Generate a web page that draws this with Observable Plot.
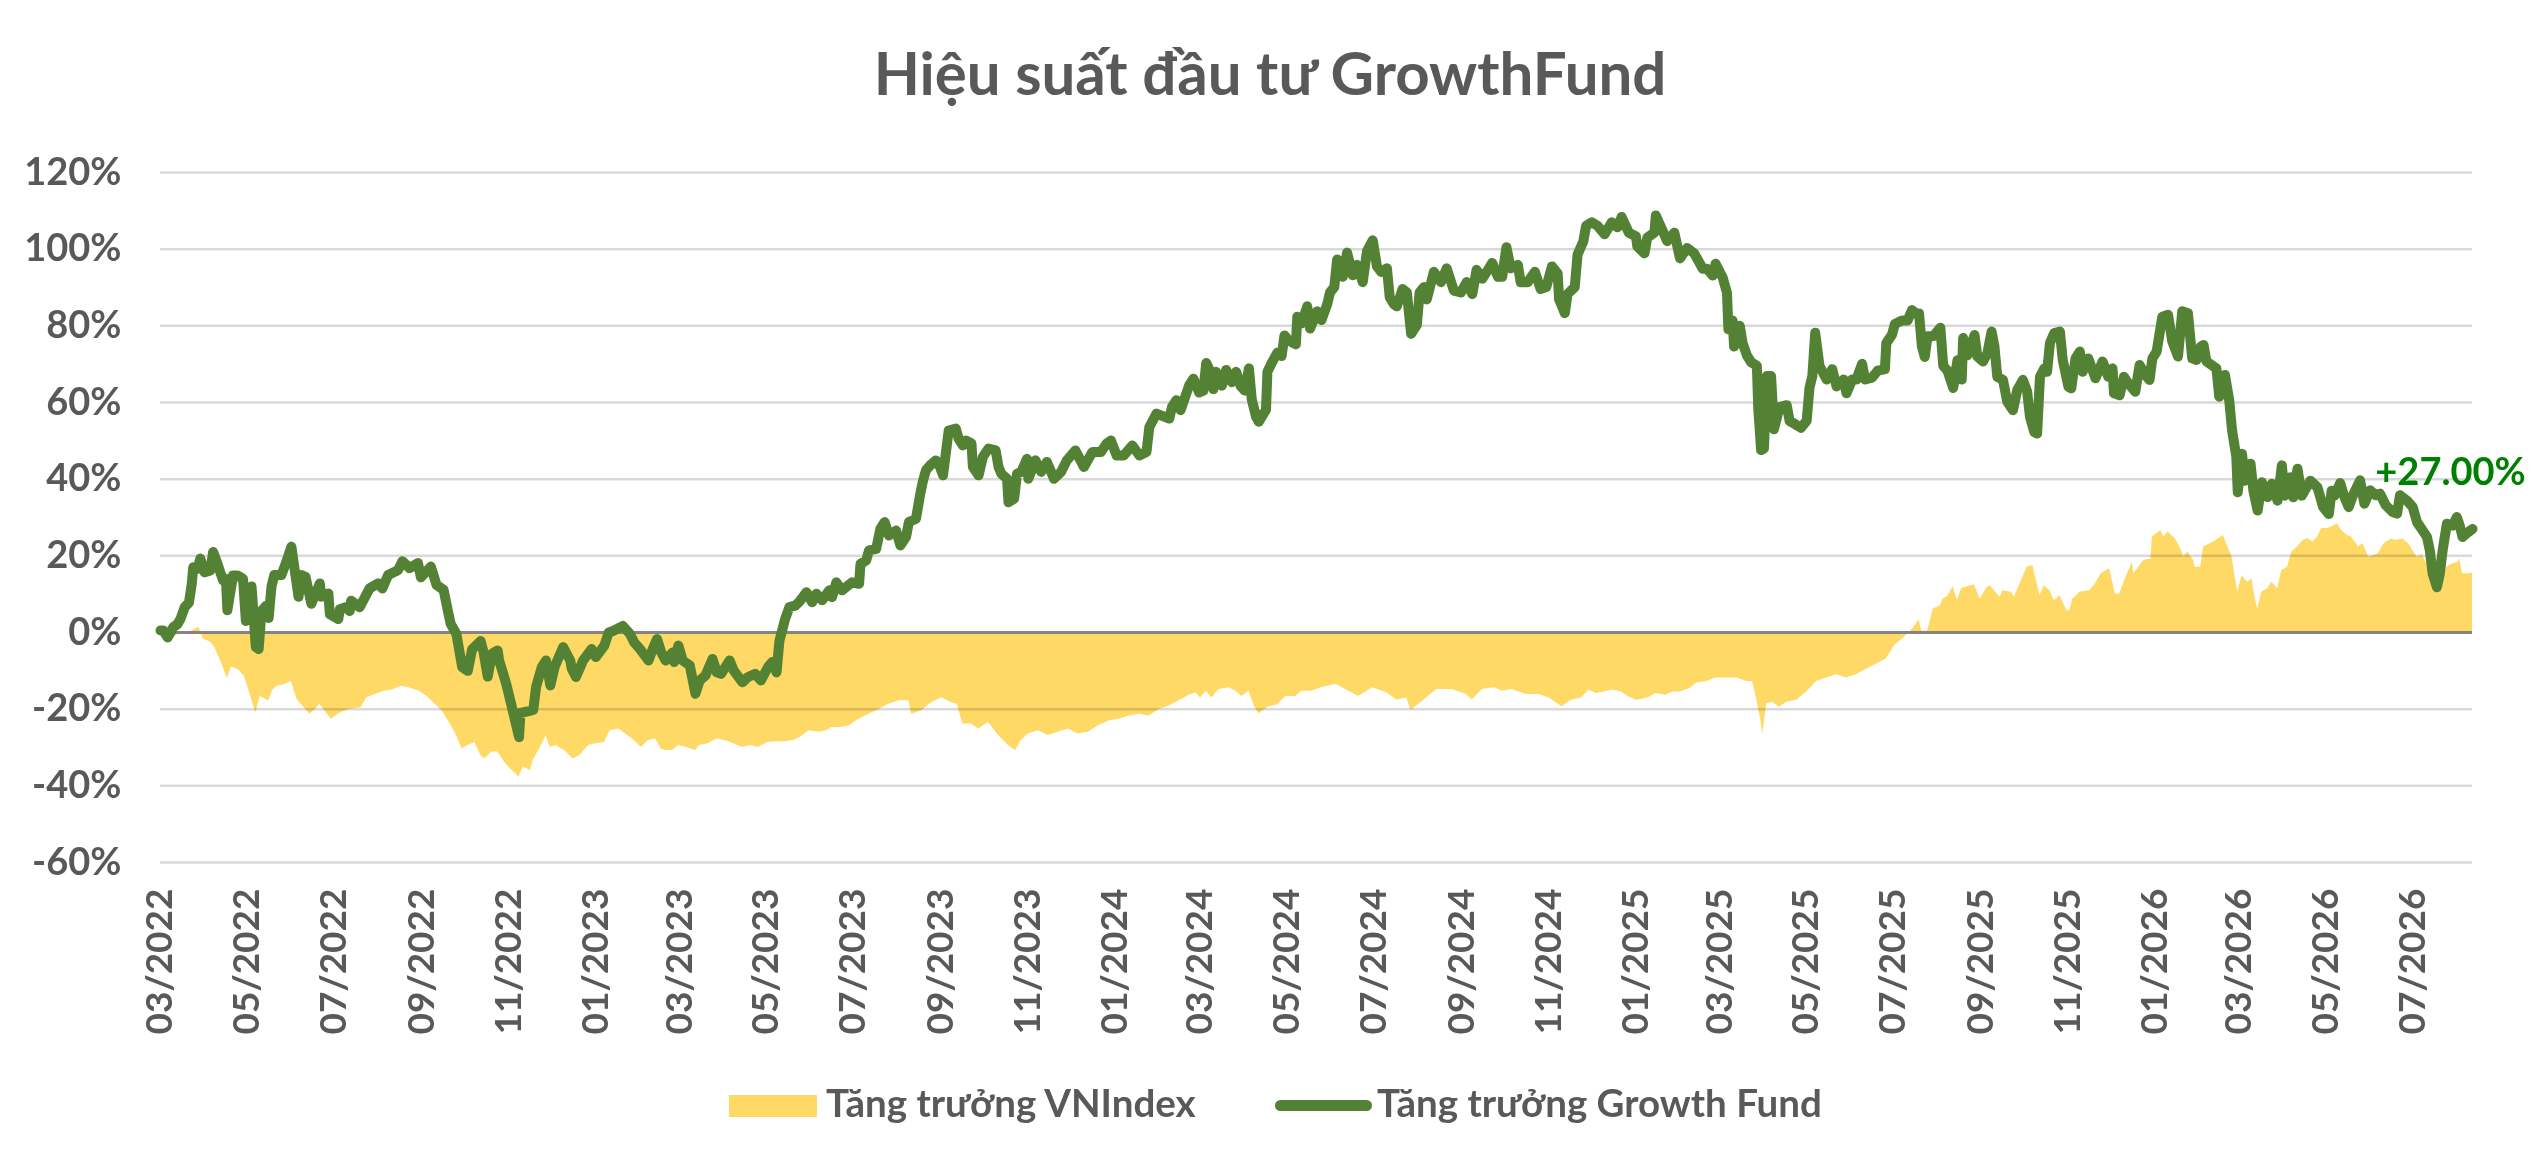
<!DOCTYPE html>
<html>
<head>
<meta charset="utf-8">
<script src="https://cdn.jsdelivr.net/npm/d3@7"></script>
<script src="https://cdn.jsdelivr.net/npm/@observablehq/plot@0.6"></script>
<style>
  html, body { margin: 0; padding: 0; background: #fff; }
  #page { position: relative; width: 2540px; height: 1172px; overflow: hidden; font-family: Lato, "Open Sans", sans-serif; color: #595959; }
  #title { position: absolute; left: 0; top: 42px; width: 2540px; text-align: center; font-weight: 700; font-size: 60px; line-height: 1; }
  #chart { position: absolute; left: 0; top: 130px; }
  .leg-text { position: absolute; top: 1083px; font-weight: 700; font-size: 38.5px; line-height: 1; white-space: nowrap; }
</style>
</head>
<body>
<div id="page">
  <div id="title">Hiệu suất đầu tư GrowthFund</div>
  <div id="chart"></div>
  <div style="position:absolute;left:729px;top:1095px;width:88px;height:22px;background:#FFD966"></div>
  <div class="leg-text" style="left:826px">Tăng trưởng VNIndex</div>
  <div style="position:absolute;left:1275px;top:1100px;width:97px;height:11px;border-radius:5.5px;background:#548235"></div>
  <div class="leg-text" style="left:1377px">Tăng trưởng Growth Fund</div>
</div>
<script>
const yTicks = [-60, -40, -20, 0, 20, 40, 60, 80, 100, 120];
const xTickDates = ["2022-03-01","2022-05-01","2022-07-01","2022-09-01","2022-11-01","2023-01-01","2023-03-01","2023-05-01","2023-07-01","2023-09-01","2023-11-01","2024-01-01","2024-03-01","2024-05-01","2024-07-01","2024-09-01","2024-11-01","2025-01-01","2025-03-01","2025-05-01","2025-07-01","2025-09-01","2025-11-01","2026-01-01","2026-03-01","2026-05-01","2026-07-01"];

const fundDates = ["2022-03-01","2022-03-03","2022-03-06","2022-03-10","2022-03-13","2022-03-15","2022-03-18","2022-03-21","2022-03-23","2022-03-24","2022-03-27","2022-03-29","2022-04-01","2022-04-05","2022-04-07","2022-04-10","2022-04-12","2022-04-14","2022-04-16","2022-04-17","2022-04-21","2022-04-24","2022-04-28","2022-04-30","2022-05-04","2022-05-07","2022-05-09","2022-05-11","2022-05-14","2022-05-16","2022-05-18","2022-05-20","2022-05-25","2022-05-28","2022-06-01","2022-06-06","2022-06-08","2022-06-11","2022-06-15","2022-06-21","2022-06-22","2022-06-27","2022-06-28","2022-07-04","2022-07-05","2022-07-09","2022-07-12","2022-07-13","2022-07-19","2022-07-26","2022-08-01","2022-08-04","2022-08-08","2022-08-13","2022-08-15","2022-08-18","2022-08-23","2022-08-29","2022-08-31","2022-09-07","2022-09-11","2022-09-16","2022-09-19","2022-09-21","2022-09-25","2022-09-27","2022-09-29","2022-10-03","2022-10-06","2022-10-12","2022-10-14","2022-10-17","2022-10-20","2022-10-24","2022-10-25","2022-10-30","2022-11-03","2022-11-08","2022-11-09","2022-11-14","2022-11-18","2022-11-20","2022-11-24","2022-11-27","2022-11-30","2022-12-03","2022-12-09","2022-12-14","2022-12-15","2022-12-18","2022-12-23","2022-12-29","2023-01-01","2023-01-07","2023-01-10","2023-01-13","2023-01-20","2023-01-25","2023-01-28","2023-02-01","2023-02-07","2023-02-10","2023-02-13","2023-02-16","2023-02-19","2023-02-24","2023-02-25","2023-02-28","2023-03-03","2023-03-08","2023-03-12","2023-03-15","2023-03-19","2023-03-24","2023-03-27","2023-03-30","2023-04-05","2023-04-08","2023-04-14","2023-04-18","2023-04-23","2023-04-27","2023-05-02","2023-05-05","2023-05-08","2023-05-10","2023-05-14","2023-05-17","2023-05-21","2023-05-24","2023-05-29","2023-06-02","2023-06-05","2023-06-09","2023-06-14","2023-06-16","2023-06-19","2023-06-23","2023-06-30","2023-07-05","2023-07-06","2023-07-10","2023-07-12","2023-07-17","2023-07-20","2023-07-23","2023-07-26","2023-07-31","2023-08-03","2023-08-07","2023-08-09","2023-08-14","2023-08-17","2023-08-19","2023-08-21","2023-08-24","2023-08-28","2023-08-30","2023-09-02","2023-09-06","2023-09-11","2023-09-13","2023-09-16","2023-09-18","2023-09-22","2023-09-23","2023-09-27","2023-09-30","2023-10-04","2023-10-09","2023-10-11","2023-10-13","2023-10-17","2023-10-18","2023-10-22","2023-10-24","2023-10-27","2023-10-31","2023-11-01","2023-11-06","2023-11-10","2023-11-14","2023-11-19","2023-11-24","2023-11-28","2023-12-04","2023-12-10","2023-12-16","2023-12-22","2023-12-26","2023-12-29","2024-01-02","2024-01-07","2024-01-13","2024-01-18","2024-01-23","2024-01-25","2024-01-30","2024-02-08","2024-02-10","2024-02-13","2024-02-16","2024-02-22","2024-02-25","2024-02-29","2024-03-03","2024-03-05","2024-03-08","2024-03-10","2024-03-12","2024-03-16","2024-03-19","2024-03-23","2024-03-26","2024-03-29","2024-04-01","2024-04-04","2024-04-06","2024-04-09","2024-04-11","2024-04-16","2024-04-17","2024-04-20","2024-04-24","2024-04-27","2024-04-29","2024-05-02","2024-05-07","2024-05-08","2024-05-11","2024-05-15","2024-05-17","2024-05-22","2024-05-25","2024-05-29","2024-05-31","2024-06-03","2024-06-05","2024-06-09","2024-06-12","2024-06-16","2024-06-19","2024-06-23","2024-06-26","2024-06-30","2024-07-03","2024-07-06","2024-07-10","2024-07-12","2024-07-15","2024-07-17","2024-07-21","2024-07-24","2024-07-27","2024-07-31","2024-08-02","2024-08-05","2024-08-07","2024-08-12","2024-08-17","2024-08-21","2024-08-26","2024-08-31","2024-09-04","2024-09-08","2024-09-11","2024-09-15","2024-09-19","2024-09-22","2024-09-26","2024-09-29","2024-10-02","2024-10-05","2024-10-10","2024-10-12","2024-10-17","2024-10-22","2024-10-26","2024-10-30","2024-11-03","2024-11-07","2024-11-08","2024-11-12","2024-11-14","2024-11-19","2024-11-21","2024-11-25","2024-11-27","2024-12-01","2024-12-05","2024-12-10","2024-12-15","2024-12-19","2024-12-22","2024-12-27","2025-01-01","2025-01-02","2025-01-07","2025-01-09","2025-01-14","2025-01-15","2025-01-23","2025-01-28","2025-02-01","2025-02-06","2025-02-11","2025-02-17","2025-02-20","2025-02-24","2025-02-26","2025-03-03","2025-03-06","2025-03-07","2025-03-10","2025-03-11","2025-03-15","2025-03-17","2025-03-20","2025-03-23","2025-03-27","2025-03-28","2025-03-30","2025-04-01","2025-04-03","2025-04-06","2025-04-08","2025-04-12","2025-04-17","2025-04-19","2025-04-27","2025-05-01","2025-05-03","2025-05-05","2025-05-07","2025-05-10","2025-05-15","2025-05-19","2025-05-22","2025-05-27","2025-05-29","2025-06-02","2025-06-05","2025-06-09","2025-06-11","2025-06-16","2025-06-20","2025-06-25","2025-06-26","2025-06-30","2025-07-02","2025-07-07","2025-07-11","2025-07-14","2025-07-17","2025-07-19","2025-07-21","2025-07-23","2025-07-25","2025-07-29","2025-08-03","2025-08-05","2025-08-08","2025-08-12","2025-08-15","2025-08-18","2025-08-19","2025-08-22","2025-08-27","2025-08-29","2025-09-02","2025-09-05","2025-09-08","2025-09-10","2025-09-12","2025-09-16","2025-09-19","2025-09-23","2025-09-26","2025-09-30","2025-10-03","2025-10-05","2025-10-08","2025-10-10","2025-10-12","2025-10-15","2025-10-17","2025-10-19","2025-10-22","2025-10-26","2025-10-28","2025-11-01","2025-11-03","2025-11-06","2025-11-09","2025-11-11","2025-11-15","2025-11-20","2025-11-25","2025-11-29","2025-12-02","2025-12-03","2025-12-07","2025-12-10","2025-12-13","2025-12-18","2025-12-21","2025-12-25","2025-12-28","2025-12-30","2026-01-02","2026-01-06","2026-01-10","2026-01-13","2026-01-17","2026-01-20","2026-01-24","2026-01-27","2026-01-30","2026-02-02","2026-02-04","2026-02-06","2026-02-13","2026-02-15","2026-02-19","2026-02-22","2026-02-24","2026-02-27","2026-02-28","2026-03-03","2026-03-05","2026-03-09","2026-03-11","2026-03-14","2026-03-17","2026-03-21","2026-03-24","2026-03-28","2026-03-31","2026-04-02","2026-04-06","2026-04-08","2026-04-11","2026-04-14","2026-04-20","2026-04-25","2026-04-29","2026-05-03","2026-05-05","2026-05-07","2026-05-11","2026-05-14","2026-05-17","2026-05-20","2026-05-25","2026-05-28","2026-06-01","2026-06-05","2026-06-08","2026-06-12","2026-06-17","2026-06-20","2026-06-22","2026-06-27","2026-07-01","2026-07-04","2026-07-08","2026-07-11","2026-07-13","2026-07-15","2026-07-18","2026-07-20","2026-07-22","2026-07-25","2026-07-29","2026-08-01","2026-08-03","2026-08-05","2026-08-09","2026-08-12"];
const fundValues = [0.5,0.5,-1.3,1.4,2.2,3.5,6.6,7.8,12.8,17,16.6,19.3,15.7,16.2,21,18,15.7,13.6,14,5.8,14.9,14.9,14,3,12,-3.8,-4.3,5.6,6.9,3.8,12,15,15,18,22.4,9.3,15,14.5,7.5,12.8,9.3,10.2,4.8,3.5,6.1,6.6,5.6,8.3,6.6,11.5,12.8,11.5,15,15.9,16.3,18.6,16.8,18.1,14.4,17.2,12.4,11.1,5.6,2.2,-0.4,-4.7,-9,-10,-4.4,-2.2,-5,-11.5,-5.5,-4.7,-7.3,-13.4,-19.5,-27.3,-21,-20.6,-20.2,-14.2,-9,-7.3,-13.8,-9,-3.8,-7.3,-9.4,-11.6,-7.3,-4.3,-6.4,-3.4,0,0.4,1.7,-0.4,-2.6,-4.3,-7.3,-4.3,-1.7,-5.2,-7.3,-5.2,-7.7,-3.4,-7.3,-8.6,-16,-12.5,-11.2,-6.9,-10.4,-10.8,-7.3,-10,-13,-11.6,-10.8,-12.5,-9,-7.7,-10.4,-2.2,3.5,6.6,7,8,10.5,7.9,10.1,8.4,11,9.2,13.1,11,13.1,12.7,17.9,18.8,21.4,21.8,27.1,28.8,25.3,26.6,22.7,24.9,28.8,29.7,36.2,39.7,42.3,43.6,44.9,44,41,52.7,53.2,50.5,48.8,50.1,49.3,43.2,41,45.8,48,47.5,43.2,41.4,40.1,34,34.9,41.4,41.9,45.3,40.1,44.9,41.9,44.5,40.1,41.9,44.9,47.5,43.2,47.1,47.1,49.3,50.1,46.2,46.2,48.8,46.2,47.1,53.6,57.1,55.8,58.9,60.6,58,64.5,66.2,62.6,63.1,70.3,68,63.5,68,64.4,68.5,65.3,68,64.4,63.1,68.9,60.8,56.3,55,58.1,68,70.3,73,72.1,77.5,76.1,75.2,82.4,80.6,85.1,79.3,83.8,81.5,85.6,88.7,90.1,97.3,92.8,99.1,93.2,95.9,91.4,99.5,102.3,95.5,94.1,95,87.4,85.6,85.1,89.6,88.7,77.9,80.2,88.7,90.1,86.9,94.1,91.4,95,89.2,88.7,91.4,88.3,94.6,92.3,94.6,96.4,92.8,92.8,100.5,95,95.9,91.4,91.4,94.1,89.6,90.1,95.5,93.7,86.9,83.3,88.3,90.1,98.6,102,106.1,107,106.1,103.9,107,105.7,108.4,104.3,103.4,100.7,98.9,103,104.3,108.8,102.1,104.3,97.6,100.3,98.9,94.9,94.9,93.1,96.2,92.6,88.6,79.1,81.4,74.6,80,75.5,72.3,70.5,69.6,58.4,47.6,48,66.9,66.9,53,58.8,59.3,55.2,53.4,55.2,63.8,66.9,78.2,69.6,66,68.7,64.2,66,62.4,66,66,70.1,66,66.5,68.3,68.7,75.5,77.7,80.5,81.4,81.4,84.1,83.2,83.2,74.6,71.9,77.3,77.3,79.5,69.6,68.3,63.8,71,66,76.8,72.3,77.6,72,70.7,72.8,78.5,74.6,66.7,65.9,60.2,58,63.2,65.9,62.8,56.2,52.3,51.9,66.7,68.9,68,75.5,78.1,78.5,71.1,64.1,63.7,71.5,73.3,68,71.5,66.3,70.7,66.7,68.9,62.4,61.9,66.7,65,62.8,69.8,67.2,65.9,71.5,73.3,82.4,82.9,75.9,72,83.8,83.3,71.5,71.1,74.6,75,70.7,68.9,61.5,67.2,60.6,52.8,45.8,36.6,46.6,39.6,44,37,31.8,39.2,35.3,38.8,34.4,43.6,35.7,40.5,35.3,42.7,35.7,39.6,37.9,32.7,30.9,37,35.7,39,35.3,32.7,35.8,39.7,33.6,37.1,35.8,36.2,33.2,31.4,31,35.8,34.4,32.7,28.8,26.6,24.9,21.4,15.3,11.8,15.3,21.4,28.4,27.9,30.1,27.9,24.9,26.2,27];

const vniDates = ["2022-03-01","2022-03-07","2022-03-13","2022-03-21","2022-03-28","2022-03-31","2022-04-05","2022-04-08","2022-04-13","2022-04-17","2022-04-20","2022-04-25","2022-04-29","2022-05-02","2022-05-07","2022-05-10","2022-05-16","2022-05-19","2022-05-22","2022-05-27","2022-06-01","2022-06-05","2022-06-14","2022-06-18","2022-06-21","2022-06-29","2022-07-06","2022-07-12","2022-07-20","2022-07-24","2022-07-30","2022-08-05","2022-08-11","2022-08-17","2022-08-23","2022-08-30","2022-09-04","2022-09-09","2022-09-15","2022-09-20","2022-09-24","2022-09-29","2022-10-03","2022-10-08","2022-10-12","2022-10-15","2022-10-20","2022-10-24","2022-10-29","2022-11-02","2022-11-08","2022-11-11","2022-11-16","2022-11-18","2022-11-23","2022-11-27","2022-11-30","2022-12-04","2022-12-10","2022-12-16","2022-12-21","2022-12-27","2023-01-01","2023-01-07","2023-01-11","2023-01-17","2023-01-22","2023-01-28","2023-02-02","2023-02-07","2023-02-12","2023-02-16","2023-02-19","2023-02-24","2023-02-28","2023-03-06","2023-03-12","2023-03-15","2023-03-21","2023-03-27","2023-04-02","2023-04-08","2023-04-14","2023-04-20","2023-04-25","2023-05-02","2023-05-08","2023-05-14","2023-05-20","2023-05-24","2023-05-31","2023-06-07","2023-06-12","2023-06-16","2023-06-21","2023-06-28","2023-07-05","2023-07-12","2023-07-19","2023-07-26","2023-08-02","2023-08-09","2023-08-11","2023-08-18","2023-08-25","2023-09-01","2023-09-08","2023-09-12","2023-09-16","2023-09-22","2023-09-27","2023-10-04","2023-10-11","2023-10-18","2023-10-23","2023-10-27","2023-11-01","2023-11-08","2023-11-15","2023-11-22","2023-11-29","2023-12-06","2023-12-13","2023-12-20","2023-12-28","2024-01-04","2024-01-11","2024-01-18","2024-01-25","2024-02-01","2024-02-08","2024-02-15","2024-02-22","2024-02-27","2024-03-01","2024-03-05","2024-03-09","2024-03-14","2024-03-21","2024-03-26","2024-03-30","2024-04-04","2024-04-08","2024-04-11","2024-04-18","2024-04-24","2024-04-30","2024-05-07","2024-05-11","2024-05-18","2024-05-25","2024-06-04","2024-06-11","2024-06-20","2024-06-30","2024-07-10","2024-07-17","2024-07-24","2024-07-27","2024-08-04","2024-08-14","2024-08-25","2024-09-04","2024-09-08","2024-09-15","2024-09-24","2024-09-29","2024-10-06","2024-10-16","2024-10-25","2024-11-01","2024-11-10","2024-11-17","2024-11-24","2024-11-29","2024-12-04","2024-12-10","2024-12-15","2024-12-22","2024-12-27","2025-01-02","2025-01-07","2025-01-11","2025-01-15","2025-01-22","2025-01-27","2025-02-01","2025-02-08","2025-02-13","2025-02-20","2025-02-26","2025-03-06","2025-03-13","2025-03-20","2025-03-24","2025-03-27","2025-03-30","2025-03-31","2025-04-03","2025-04-07","2025-04-12","2025-04-17","2025-04-24","2025-05-01","2025-05-08","2025-05-15","2025-05-22","2025-05-29","2025-06-05","2025-06-12","2025-06-19","2025-06-26","2025-07-02","2025-07-08","2025-07-13","2025-07-16","2025-07-19","2025-07-21","2025-07-25","2025-07-29","2025-08-03","2025-08-05","2025-08-08","2025-08-12","2025-08-15","2025-08-18","2025-08-24","2025-08-27","2025-08-31","2025-09-05","2025-09-07","2025-09-14","2025-09-16","2025-09-22","2025-09-24","2025-09-28","2025-10-01","2025-10-03","2025-10-07","2025-10-12","2025-10-15","2025-10-19","2025-10-22","2025-10-26","2025-10-31","2025-11-02","2025-11-04","2025-11-09","2025-11-16","2025-11-20","2025-11-24","2025-11-30","2025-12-04","2025-12-07","2025-12-11","2025-12-16","2025-12-17","2025-12-24","2025-12-29","2025-12-30","2026-01-05","2026-01-07","2026-01-10","2026-01-15","2026-01-19","2026-01-21","2026-01-24","2026-01-28","2026-01-29","2026-02-02","2026-02-04","2026-02-11","2026-02-18","2026-02-21","2026-02-24","2026-02-26","2026-02-28","2026-03-03","2026-03-07","2026-03-10","2026-03-12","2026-03-14","2026-03-17","2026-03-21","2026-03-24","2026-03-28","2026-03-31","2026-04-04","2026-04-07","2026-04-11","2026-04-15","2026-04-18","2026-04-22","2026-04-25","2026-04-28","2026-05-02","2026-05-05","2026-05-09","2026-05-12","2026-05-16","2026-05-19","2026-05-24","2026-05-27","2026-05-31","2026-06-04","2026-06-07","2026-06-11","2026-06-16","2026-06-19","2026-06-24","2026-06-28","2026-07-01","2026-07-04","2026-07-08","2026-07-11","2026-07-15","2026-07-18","2026-07-22","2026-07-25","2026-07-29","2026-08-02","2026-08-03","2026-08-05","2026-08-09","2026-08-12"];
const vniValues = [-0.5,-2.5,-0.6,0,1.4,-1.7,-2.5,-3.8,-8.1,-12,-9,-9.8,-11.5,-15,-21,-16.6,-17.9,-15,-14,-13.6,-12.8,-17.5,-21.3,-20,-18.7,-22.6,-20.9,-20,-19.6,-17,-16.2,-15.3,-15,-14,-14.5,-15.3,-16.6,-18.3,-20.5,-23.5,-26,-30.4,-29.5,-28.7,-32,-33,-31.2,-31.2,-33.9,-35.6,-37.7,-35.1,-36,-33.4,-30,-27,-30,-29.5,-30.8,-33,-32,-29.5,-29,-28.7,-25.6,-25.2,-26.5,-28.2,-30,-28.2,-27.8,-30.4,-30.8,-30.8,-29.5,-30,-30.8,-29.5,-29,-27.8,-28.2,-29,-30,-29.5,-30,-28.7,-28.5,-28.5,-28.2,-27.5,-25.6,-26,-25.6,-24.8,-24.8,-24.4,-22.6,-21.3,-20.1,-18.7,-17.8,-17.8,-21.3,-20.4,-18.3,-17,-18.3,-18.7,-23.9,-23.9,-25.2,-23.5,-26.9,-29.5,-30.8,-28.2,-26.5,-25.6,-26.9,-26,-25.2,-26.5,-26,-24.4,-23,-22.6,-21.8,-21.3,-21.8,-20.1,-19.2,-17.8,-16.4,-15.8,-17.1,-15.3,-17.1,-14.9,-14.4,-15.3,-16.7,-15.3,-19.4,-21.2,-19.4,-18.9,-16.7,-16.7,-15.3,-15.3,-14.4,-13.5,-14.9,-16.7,-14.4,-15.8,-17.6,-17.1,-20.3,-18,-14.9,-14.9,-16.2,-17.6,-14.9,-14.4,-15.3,-14.9,-16.2,-16.2,-17.1,-19.4,-17.6,-17.1,-15,-15.9,-15.5,-15,-15.5,-16.8,-17.7,-17.3,-16.8,-15.9,-16.4,-15.5,-15.5,-14.6,-13.2,-12.8,-11.9,-11.9,-11.9,-12.8,-12.8,-17.7,-23.2,-26.8,-18.6,-18.2,-19.5,-18.2,-17.7,-15.5,-12.8,-11.9,-11,-11.9,-11,-9.6,-8.3,-6.9,-3.3,-1.5,0.3,1.6,3.4,0.3,0.3,6.1,7,8.8,9.3,12,8.4,11.5,12.2,12.4,8.7,11.8,12.2,9.2,10.9,10.5,9.2,12.7,15.3,17,17.5,9.6,12.2,10.9,8.3,9.6,5.7,5.7,8.7,10.5,10.9,12.7,15.3,16.6,10,10,14,18.3,15.3,18.8,19.2,24.9,26.6,24.9,26.2,24.5,21.8,19.7,21,18.8,17,17,22.3,23.6,25.3,22.3,19.7,14.8,10.5,14.8,13.1,14,9.6,6.1,10.5,11.4,13.1,11.4,16.2,17,21,22.3,24,24.5,23.6,24.9,27.1,27.1,27.5,28.4,26.6,25.3,24.9,22.3,23.2,19.7,20.1,20.6,23.2,24.4,24,24.4,23.2,21.4,19.7,20.1,17.9,13.6,11.8,13.6,17.1,17.9,18.4,19.3,15.3,15.3,15.5];

const parse = d3.utcParse("%Y-%m-%d");
const fund = fundDates.map((d, i) => ({date: parse(d), value: fundValues[i]}));
const vni = vniDates.map((d, i) => ({date: parse(d), value: vniValues[i]}));
const lastFund = [fund[fund.length - 1]];

const chart = Plot.plot({
  width: 2540,
  height: 912,
  marginTop: 42,
  marginBottom: 180,
  marginLeft: 160,
  marginRight: 68,
  style: {fontFamily: "Lato, 'Open Sans', sans-serif", fontWeight: "bold", color: "#595959", background: "transparent", overflow: "visible"},
  x: {type: "utc", domain: [parse("2022-03-01"), parse("2026-08-12")], label: null},
  y: {domain: [-60, 120], label: null},
  marks: [
    Plot.areaY(vni, {x: "date", y: "value", fill: "#FFD966"}),
    Plot.gridY(yTicks, {stroke: "#D9D9D9", strokeOpacity: 1, strokeWidth: 2.5}),
    Plot.ruleY([0], {stroke: "#848484", strokeWidth: 3}),
    Plot.line(fund, {x: "date", y: "value", stroke: "#548235", strokeWidth: 10, strokeLinejoin: "round", strokeLinecap: "round"}),
    Plot.axisY(yTicks, {tickFormat: d => d + "%", tickSize: 0, tickPadding: 39, fontSize: 38, fill: "#595959"}),
    Plot.axisX(xTickDates.map(parse), {tickFormat: d3.utcFormat("%m/%Y"), tickRotate: -90, tickSize: 0, tickPadding: 26, fontSize: 37, fill: "#595959"}),
    Plot.text(lastFund, {x: "date", y: "value", text: d => "+" + d.value.toFixed(2) + "%", fill: "#008000", fontSize: 38, fontWeight: "bold", dx: -22, dy: -56})
  ]
});
document.getElementById("chart").appendChild(chart);
// gridlines tint the area like a translucent overlay
chart.querySelectorAll('g[aria-label="y-grid"]').forEach(g => g.style.mixBlendMode = "multiply");
</script>
</body>
</html>
